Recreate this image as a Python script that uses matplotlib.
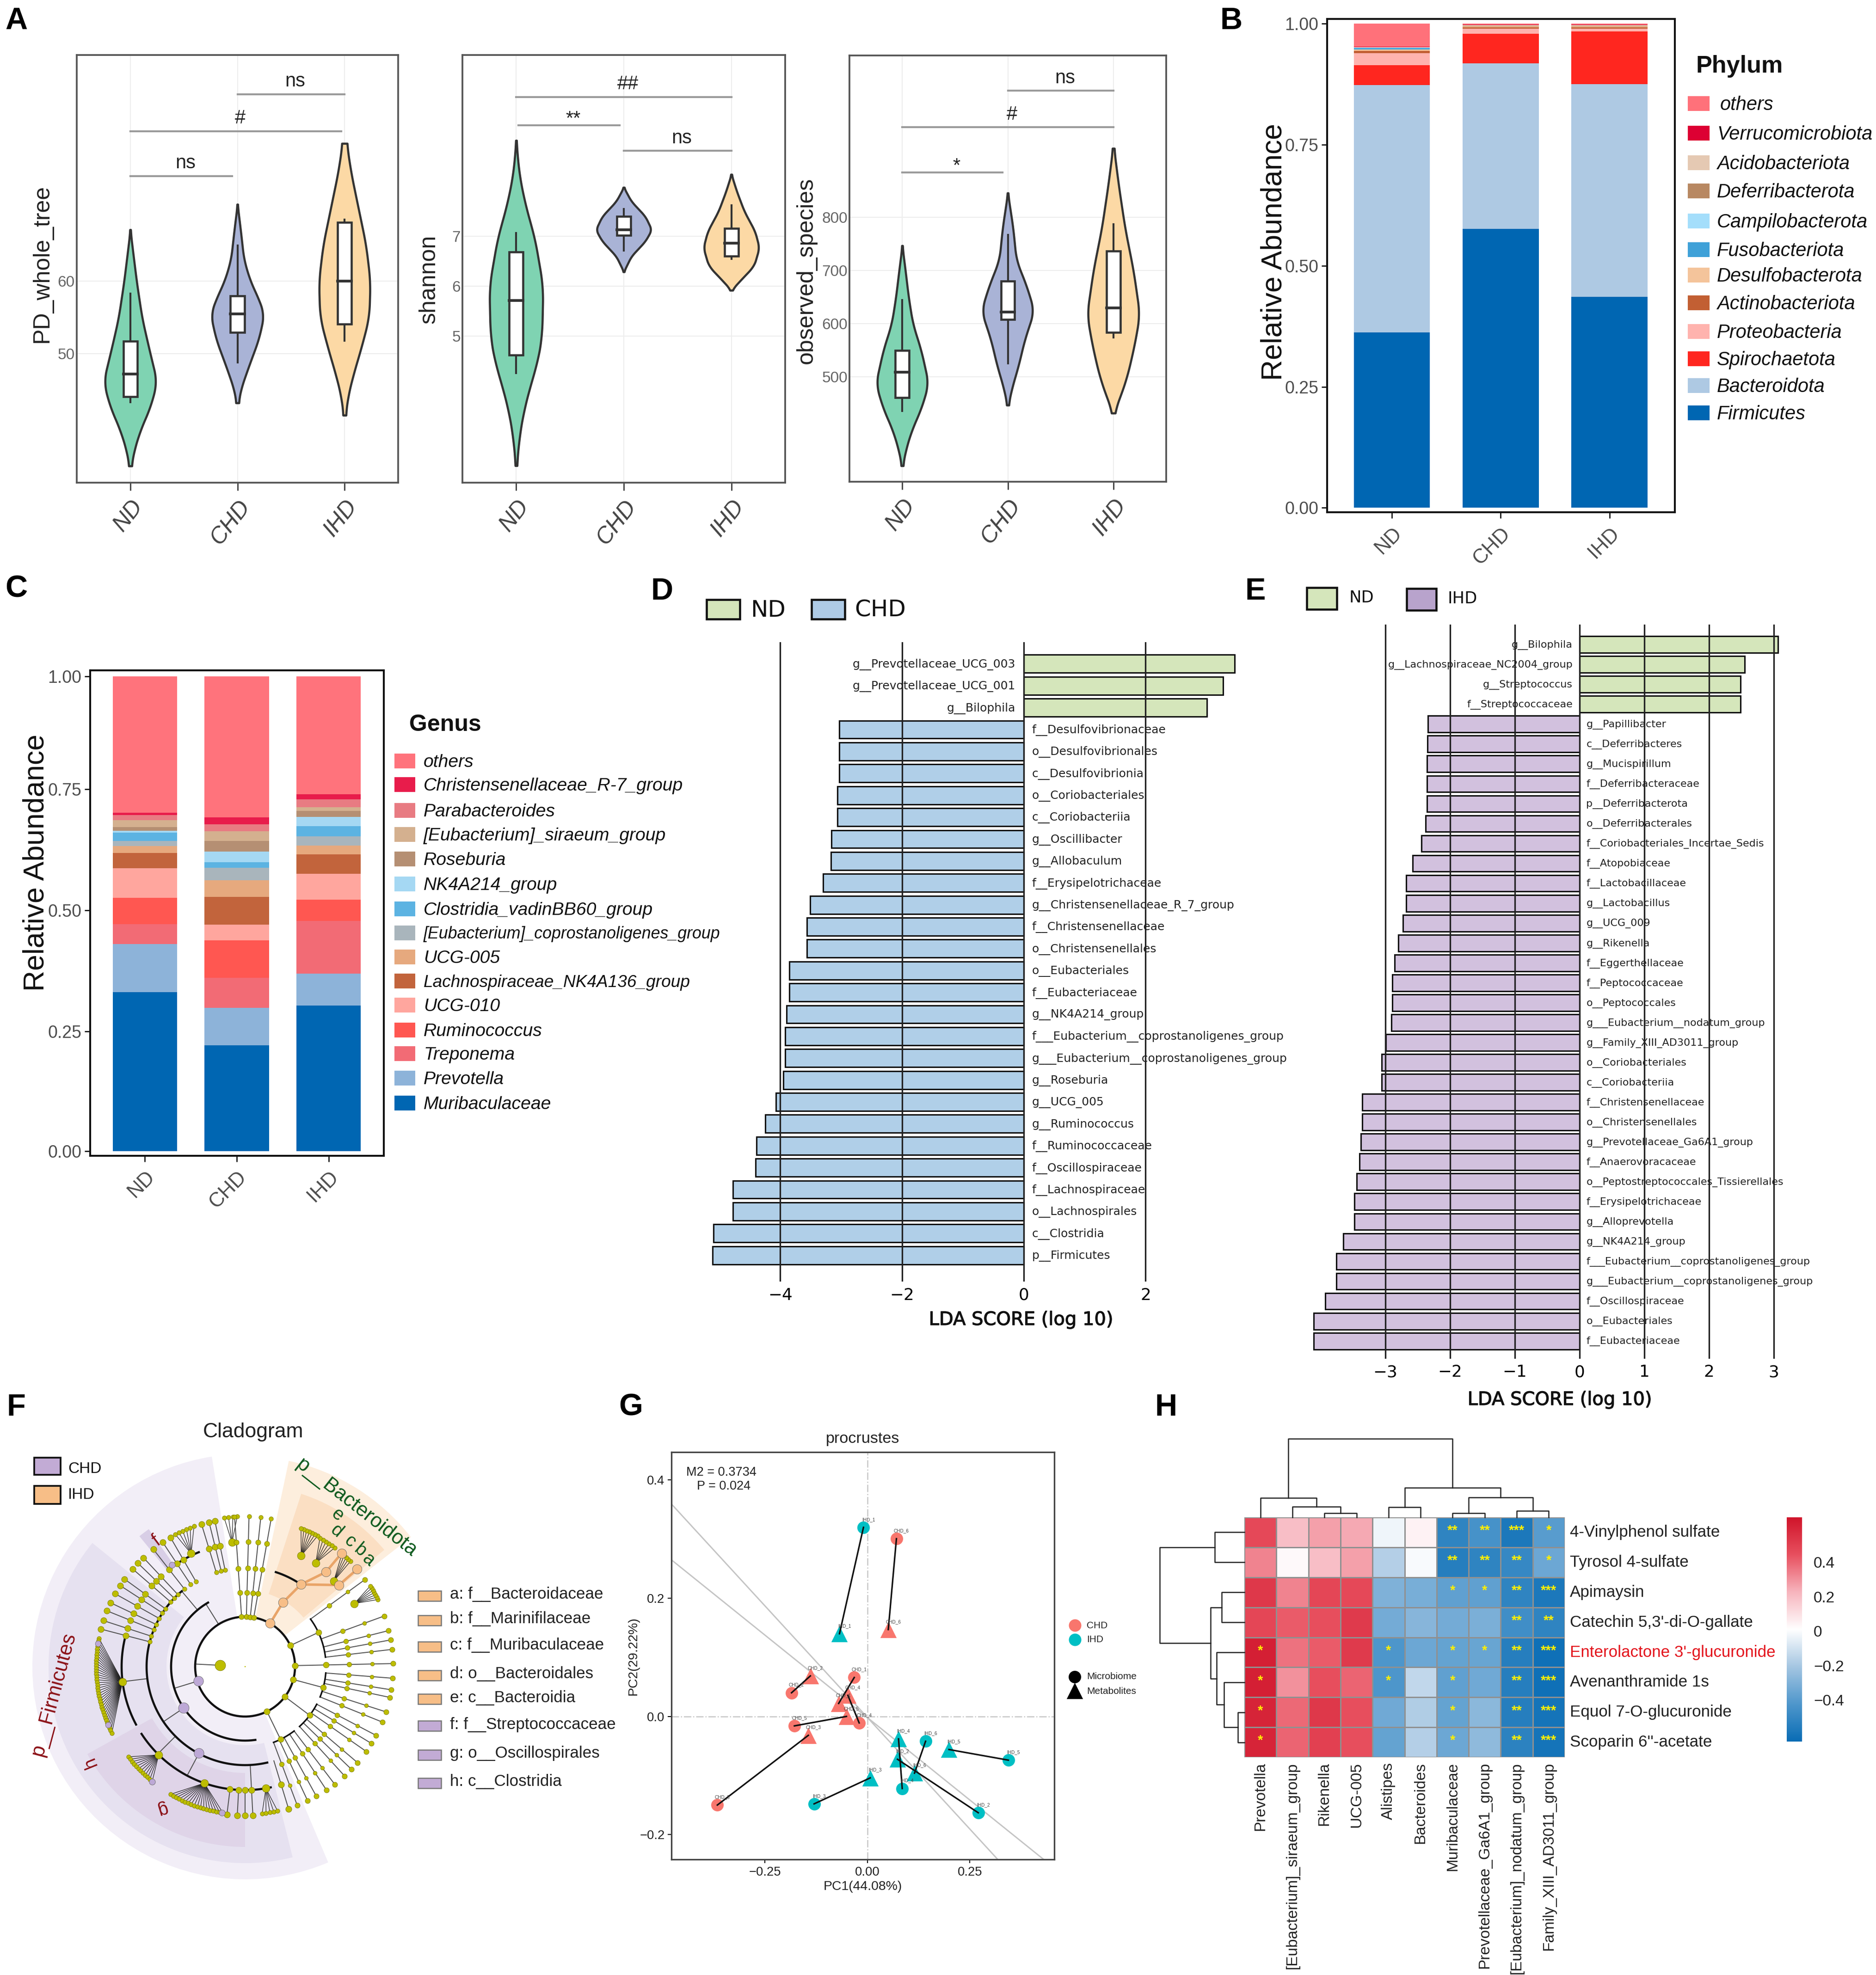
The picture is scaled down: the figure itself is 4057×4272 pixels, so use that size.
import numpy as np
import matplotlib
matplotlib.use("Agg")
import matplotlib.pyplot as plt
import matplotlib.patheffects as pe
from matplotlib.patches import Wedge, Rectangle
from matplotlib.colors import LinearSegmentedColormap

plt.rcParams['font.family'] = ['Liberation Sans', 'DejaVu Sans']
W, H = 4057, 4272
fig = plt.figure(figsize=(W/300, H/300), dpi=300, facecolor='white')

def axpx(x0, y0, x1, y1, **k):
    return fig.add_axes([x0/W, 1-y1/H, (x1-x0)/W, (y1-y0)/H], **k)

ov = axpx(0, 0, W, H, zorder=20)
ov.set_xlim(0, W); ov.set_ylim(H, 0); ov.axis('off'); ov.patch.set_alpha(0)

groups = ['ND', 'CHD', 'IHD']
vcolors = ['#7FD3B2', '#A9B3D6', '#FCD9A5']

# ---------- A : violin outlines (value, half width) and box stats
pd_prof = [
    ([67.1,64.6,59.8,54.9,51,46.1,42.7,39.3,36.3,34.5],[0,.02,.06,.11,.17,.25,.19,.09,.03,.01]),
    ([70.6,67,63,60,57.5,55.4,52,48,45,43.2],[0,.03,.06,.12,.2,.25,.2,.1,.03,.01]),
    ([79,75,70,65,60,55,51,47,44,41.5],[.02,.06,.13,.2,.24,.23,.16,.08,.03,.01])]
pd_box = [(43.3,44.05,47.2,51.7,58.3),(48.8,52.9,55.5,58,64.9),(51.8,54.1,60,68.1,68.5)]
sh_prof = [
    ([8.92,8.2,7.5,7,6,5,4.5,4,3.5,3,2.41],[0,.03,.1,.17,.25,.24,.2,.13,.07,.03,.005]),
    ([7.98,7.7,7.4,7.13,6.9,6.6,6.29],[0,.07,.2,.26,.2,.07,0]),
    ([8.24,7.9,7.5,7.1,6.77,6.4,6.2,5.92],[0,.05,.12,.22,.26,.21,.12,0])]
sh_box = [(4.26,4.62,5.72,6.69,7.07),(6.72,7.02,7.13,7.4,7.55),(6.55,6.6,6.86,7.16,7.62)]
ob_prof = [
    ([747,700,650,600,550,487,440,400,360,333],[0,.03,.06,.1,.18,.25,.18,.09,.03,.005]),
    ([846,780,720,670,624,570,520,480,447],[0,.05,.08,.18,.25,.16,.1,.04,.005]),
    ([930,860,780,700,617,560,500,460,432],[.005,.05,.11,.19,.25,.2,.13,.06,.005])]
ob_box = [(436,461,509,550,645),(526,608,622,680,767),(574,584,630,737,787)]
pd_brk = [(1,1.95,74.5,'ns'),(1,2.97,80.7,'#'),(2,3,85.8,'ns')]
sh_brk = [(1,3,9.79,'##'),(1.02,1.96,9.22,'**'),(2,3,8.71,'ns')]
ob_brk = [(2,3,1038.7,'ns'),(1,3,970,'#'),(1,1.95,885,'*')]

def smooth(y, w):
    y = np.asarray(y, float); w = np.asarray(w, float)
    o = np.argsort(y); y, w = y[o], w[o]
    yy = np.linspace(y[0], y[-1], 200)
    ww = np.interp(yy, y, w)
    k = 21
    pad = np.r_[np.full(k, ww[0]), ww, np.full(k, ww[-1])]
    ww = np.convolve(pad, np.ones(k)/k, mode='same')[k:-k]
    return yy, ww

def violin(box, ylim, yticks, prof, stats, brk, lab, labx, laby):
    ax = axpx(*box)
    ax.set_xlim(.5, 3.5); ax.set_ylim(*ylim)
    ax.grid(True, color='#EDEDED', lw=.5); ax.set_axisbelow(True)
    for i, ((y, w), st, c) in enumerate(zip(prof, stats, vcolors)):
        yy, ww = smooth(y, w)
        ax.fill_betweenx(yy, i+1-ww, i+1+ww, facecolor=c, edgecolor='#333333', lw=1.1, zorder=2)
        ax.plot([i+1, i+1], [st[0], st[4]], color='#333333', lw=1, zorder=3)
        ax.add_patch(Rectangle((i+1-.065, st[1]), .13, st[3]-st[1], fc='white', ec='#333333', lw=1.1, zorder=4))
        ax.plot([i+1-.065, i+1+.065], [st[2], st[2]], color='#333333', lw=1.4, zorder=5)
    dy = (ylim[1]-ylim[0])
    for a, b, y, t in brk:
        ax.plot([a, b], [y, y], color='#9A9A9A', lw=1)
        stars = t in ('*', '**')
        ax.text((a+b)/2+.04, y+(.014 if stars else .008)*dy, t, ha='center', va='center' if stars else 'bottom',
                fontsize=10, color='#222222')
    ax.set_xticks([1, 2, 3])
    ax.set_xticklabels(groups, rotation=52, ha='right', rotation_mode='anchor', style='italic',
                       fontsize=12, color='#444444')
    ax.set_yticks(yticks)
    ax.tick_params(axis='y', length=0, pad=1, labelsize=8, labelcolor='#666666')
    ax.tick_params(axis='x', length=4, width=.7, color='#444444', pad=3)
    for s in ax.spines.values():
        s.set_color('#555555'); s.set_linewidth(.9)
    ov.text(labx, laby, lab, rotation=90, ha='center', va='center', fontsize=12, color='#222222')
    return ax

violin((166,119,861,1044),(32.2,91.2),[50,60],pd_prof,pd_box,pd_brk,'PD_whole_tree',91,570)
violin((1000,119,1698,1044),(2.07,10.63),[5,6,7],sh_prof,sh_box,sh_brk,'shannon',928,604)
violin((1837,120,2522,1042),(303,1104.7),[500,600,700,800],ob_prof,ob_box,ob_brk,'observed_species',1744,585)

# ---------- B : phylum stack
phyla = ['Firmicutes','Bacteroidota','Spirochaetota','Proteobacteria','Actinobacteriota','Desulfobacterota',
         'Fusobacteriota','Campilobacterota','Deferribacterota','Acidobacteriota','Verrucomicrobiota','others']
phy_col = ['#0066B2','#AEC9E3','#FF261F','#FFB3AE','#C25F33','#F4C49B','#3FA1D8','#A4DEFB','#B88862','#E5C9B3','#DD0033','#FF717A']
phy_nd  = [.3625,.5105,.041,.025,.005,.003,.003,.0005,.0005,.001,.0005,.0475]
phy_chd = [.5765,.3415,.061,.011,.0025,.002,.0003,.0002,.001,.0015,.0005,.002]
phy_ihd = [.436,.439,.109,.006,.0025,.002,.0003,.0002,.001,.0015,.0005,.002]

def stack(ax, vals, cols, width=.7):
    bot = np.zeros(3)
    for v, c in zip(vals, cols):
        ax.bar([1,2,3], v, bottom=bot, width=width, color=c, lw=0)
        bot += np.array(v)

def stackax(box, ylim, ticks):
    ax = axpx(*box)
    ax.set_xlim(.405, 3.6); ax.set_ylim(*ylim)
    ax.set_xticks([1,2,3])
    ax.set_xticklabels(groups, rotation=45, ha='right', rotation_mode='anchor', fontsize=10.5, color='#4D4D4D')
    ax.set_yticks(ticks); ax.set_yticklabels(['0.00','0.25','0.50','0.75','1.00'])
    ax.tick_params(axis='y', length=3, width=.6, pad=1.5, labelsize=9, labelcolor='#4D4D4D')
    ax.tick_params(axis='x', length=3, width=.6, pad=3)
    for s in ax.spines.values():
        s.set_linewidth(1); s.set_color('#111111')
    return ax

axB = stackax((2870,41,3622,1108),(-.0091,1.0099),[0,.25,.5,.75,1])
stack(axB, list(zip(phy_nd, phy_chd, phy_ihd)), phy_col)
ov.text(2755, 545, 'Relative Abundance', rotation=90, ha='center', va='center', fontsize=15, color='#111111')
ov.text(3668, 143, 'Phylum', fontsize=12.5, ha='left', va='center', fontweight='bold', color='#111111')
leg_y = [281,361,442,518,600,677,746,822,899,974,1047,1121]
for n, c, y in zip(phyla[::-1], phy_col[::-1], leg_y):
    yy = y*.797
    ov.add_patch(Rectangle((3650, yy-16), 47, 32, fc=c, lw=0))
    ov.text(3713 if n != 'others' else 3720, yy+3, n, style='italic', fontsize=10, va='center', color='#111111')

# ---------- C : genus stack
genera = ['Muribaculaceae','Prevotella','Treponema','Ruminococcus','UCG-010','Lachnospiraceae_NK4A136_group','UCG-005',
          '[Eubacterium]_coprostanoligenes_group','Clostridia_vadinBB60_group','NK4A214_group','Roseburia',
          '[Eubacterium]_siraeum_group','Parabacteroides','Christensenellaceae_R-7_group','others']
gen_col = ['#0066B2','#8DB3D9','#F26B75','#FF5751','#FFA69E','#C2643C','#E6A97E','#A9B5BC','#5CB3E2','#A5D8F3','#B58F73','#D4B08F','#E87B82','#E81C4B','#FF737C']
gen_nd  = [.335,.1015,.0415,.056,.0625,.0315,.0145,.0115,.017,.004,.008,.014,.011,.005,.287]
gen_chd = [.2235,.0785,.063,.079,.033,.059,.035,.026,.012,.022,.023,.02,.015,.0145,.2965]
gen_ihd = [.307,.067,.111,.045,.054,.041,.019,.019,.022,.019,.0125,.0085,.016,.011,.248]

axC = stackax((195,1450,830,2500),(-.0096,1.013),[0,.2527,.508,.763,1])
stack(axC, list(zip(gen_nd, gen_chd, gen_ihd)), gen_col)
ov.text(78, 1866, 'Relative Abundance', rotation=90, ha='center', va='center', fontsize=15, color='#111111')
ov.text(885, 1568, 'Genus', fontsize=12, ha='left', va='center', fontweight='bold', color='#111111')
leg_y2 = [455,512,574,633,692,752,813,871,929,988,1046,1106,1163,1223,1283]
for n, c, y in zip(genera[::-1], gen_col[::-1], leg_y2):
    yy = 1240+y*.893
    ov.add_patch(Rectangle((853, yy-16), 45, 32, fc=c, lw=0))
    ov.text(916, yy+3, n, style='italic', va='center', color='#111111',
            fontsize=8.6 if 'copro' in n else (8.9 if 'NK4A136' in n else 9.4))

# ---------- D / E : LDA
lda_d_names = ['g__Prevotellaceae_UCG_003','g__Prevotellaceae_UCG_001','g__Bilophila','f__Desulfovibrionaceae','o__Desulfovibrionales',
 'c__Desulfovibrionia','o__Coriobacteriales','c__Coriobacteriia','g__Oscillibacter','g__Allobaculum','f__Erysipelotrichaceae',
 'g__Christensenellaceae_R_7_group','f__Christensenellaceae','o__Christensenellales','o__Eubacteriales','f__Eubacteriaceae',
 'g__NK4A214_group','f___Eubacterium__coprostanoligenes_group','g___Eubacterium__coprostanoligenes_group','g__Roseburia',
 'g__UCG_005','g__Ruminococcus','f__Ruminococcaceae','f__Oscillospiraceae','f__Lachnospiraceae','o__Lachnospirales','c__Clostridia','p__Firmicutes']
lda_d_vals = [3.46,3.27,3.01,-3.03,-3.03,-3.03,-3.06,-3.06,-3.16,-3.17,-3.30,-3.51,-3.56,-3.56,-3.85,-3.85,-3.90,-3.92,-3.92,-3.95,
              -4.07,-4.25,-4.39,-4.41,-4.78,-4.78,-5.10,-5.11]
lda_e_names = ['g__Bilophila','g__Lachnospiraceae_NC2004_group','g__Streptococcus','f__Streptococcaceae','g__Papillibacter','c__Deferribacteres',
 'g__Mucispirillum','f__Deferribacteraceae','p__Deferribacterota','o__Deferribacterales','f__Coriobacteriales_Incertae_Sedis','f__Atopobiaceae',
 'f__Lactobacillaceae','g__Lactobacillus','g__UCG_009','g__Rikenella','f__Eggerthellaceae','f__Peptococcaceae','o__Peptococcales',
 'g___Eubacterium__nodatum_group','g__Family_XIII_AD3011_group','o__Coriobacteriales','c__Coriobacteriia','f__Christensenellaceae',
 'o__Christensenellales','g__Prevotellaceae_Ga6A1_group','f__Anaerovoracaceae','o__Peptostreptococcales_Tissierellales','f__Erysipelotrichaceae',
 'g__Alloprevotella','g__NK4A214_group','f___Eubacterium__coprostanoligenes_group','g___Eubacterium__coprostanoligenes_group',
 'f__Oscillospiraceae','o__Eubacteriales','f__Eubacteriaceae']
lda_e_vals = [3.07,2.55,2.49,2.49,-2.34,-2.35,-2.36,-2.36,-2.36,-2.375,-2.44,-2.58,-2.68,-2.68,-2.73,-2.80,-2.86,-2.89,-2.89,-2.91,-2.99,
              -3.055,-3.055,-3.36,-3.36,-3.38,-3.40,-3.44,-3.48,-3.48,-3.65,-3.76,-3.76,-3.93,-4.11,-4.11]

def lda(box, xlim, ylim, names, vals, neg, ticks, fs, off, hgt):
    ax = axpx(*box, zorder=5)
    ax.set_xlim(*xlim); ax.set_ylim(*ylim)
    y = np.arange(len(vals)); v = np.array(vals)
    ax.barh(y, v, height=hgt, color=['#D5E6BB' if t > 0 else neg for t in v], edgecolor='#111111', lw=.75, zorder=2)
    for t in ticks:
        ax.axvline(t, color='#222222', lw=.8, zorder=3)
    for yi, n, t in zip(y, names, v):
        ax.text(-off if t > 0 else off, yi+.03, n, ha='right' if t > 0 else 'left', va='center',
                fontsize=fs, family='DejaVu Sans', color='#222222', zorder=4)
    ax.set_xticks(ticks)
    ax.set_yticks([])
    ax.tick_params(axis='x', length=0, labelsize=8.6, pad=3)
    for l in ax.get_xticklabels():
        l.set_fontfamily('DejaVu Sans')
    for s in ax.spines.values():
        s.set_visible(False)
    ax.patch.set_alpha(0)
    return ax

lda((1534,1389,2688,2772),(-5.166,3.6),(28.2,-.99),lda_d_names,lda_d_vals,'#B0CFE8',[-4,-2,0,2],6.0,.135,.82)
lda((2821,1351,3929,2939),(-4.25,3.667),(35.89,-1.0),lda_e_names,lda_e_vals,'#D2C1DE',[-3,-2,-1,0,1,2,3],5.35,.105,.83)

def swatch(x, y, w, h, c, lw=1.1):
    ov.add_patch(Rectangle((x, y), w, h, fc=c, ec='#111111', lw=lw))
bold = [pe.withStroke(linewidth=.3, foreground='#111111')]
swatch(1528,1297,72,42,'#D5E6BB'); swatch(1755,1297,72,42,'#AECBE6')
ov.text(1623,1320,'ND',fontsize=12,va='center',family='DejaVu Sans',color='#111111')
ov.text(1848,1320,'CHD',fontsize=12,va='center',family='DejaVu Sans',color='#111111')
ov.text(2208,2855,'LDA SCORE (log 10)',fontsize=9.6,ha='center',va='center',family='DejaVu Sans',color='#111111',path_effects=bold)
swatch(2826,1271,65,47,'#D5E6BB'); swatch(3042,1273,64,47,'#B8A3CC')
ov.text(2918,1293,'ND',fontsize=8.5,va='center',family='DejaVu Sans',color='#111111')
ov.text(3131,1295,'IHD',fontsize=8.5,va='center',family='DejaVu Sans',color='#111111')
ov.text(3373,3028,'LDA SCORE (log 10)',fontsize=9.6,ha='center',va='center',family='DejaVu Sans',color='#111111',path_effects=bold)

# ---------- F : cladogram (angle in degrees, radius)
sectors = [(105,460,99,293,'#F2EEF7'),(170,425,141,284,'#E6E1F0'),(230,390,209,270,'#DFD4E8'),(272,363,125,129,'#D8CEE6'),
           (110,455,38,78,'#FDEEDD'),(165,393,40,72,'#FBDFC3')]
rings = [(108,0,360),(160,120,278),(213,130,283),(267,165,208),(267,213,268),(267,112,128),(267,270,282)]
fans = [(187,267,169,206.5,36,322),(225.6,267,217.7,231,12,319),(250.7,267,239.7,261.4,18,320),(279.7,267,276.6,282.7,5,320),
        (115.5,271,110,117.8,6,323),(55.7,271,53,59.8,6,322),(63.2,269,61,68,7,323),(44,267,45,49.4,5,322),(30,273,26.8,32.8,7,322),(96,270,93,98,4,325)]
stalks_top = [94,88.5,84,80]
stalks_left = [165.4,162,158,154.6,150.7,147,144,139,136,133,128,123.5,120,107,104,101.7]
stalks_bottom = [-97,-93,-90,-87,-73]
right_groups = [(25,[36,20,14.1,10.4,6.7]),(1.2,[1.2]),(-15,[-4.5,-9,-12,-17.8,-22]),(-37,[-27.7,-31.3,-35,-40.5,-44,-47.7]),(-64,[-52.7,-56.6,-61.2,-65,-69.4])]
links = [(197,108,197,160),(214,160,214,213),(122,108,122,160),(242,213,242,267),(130,160,130,213),(177,108,177,54),(187,213,187,267),(225,213,225,267)]
or_links = [(60,108,59.5,161),(59.5,161,55.8,215),(55.8,215,49.5,269),(55.8,215,41,269),(49.5,269,49.6,322),(41,269,41,321)]
pu_nodes = [(197,106,26),(214,160,30),(242,212,26),(125.7,271,10),(231,320,10),(261,320,10),(171,322,9),(203,322,9)]
arcs_or = [(215,55,72)]

axF = axpx(30,3125,1030,4085, zorder=1)
axF.set_xlim(-500,500); axF.set_ylim(-480,480); axF.axis('off')
def P(a, r):
    a = np.deg2rad(a)
    return r*np.cos(a), r*np.sin(a)
LC = '#555555'; DOT = '#BDBD00'; DE = '#777700'
for r0, r1, a0, a1, c in sectors:
    axF.add_patch(Wedge((0,0), r1, a0, a1, width=r1-r0, fc=c, lw=0, zorder=1))
def arc(r, a0, a1, lw=1.1, c='#111111'):
    t = np.linspace(a0, a1, 200)
    x, y = P(t, r)
    axF.plot(x, y, color=c, lw=lw, zorder=4)
def seg(a0, r0, a1, r1, c=LC, lw=.5, z=3):
    x0, y0 = P(a0, r0); x1, y1 = P(a1, r1)
    axF.plot([x0,x1],[y0,y1],color=c,lw=lw,zorder=z)
def dot(a, r, s=6, c=DOT):
    x, y = P(a, r)
    axF.scatter([x],[y],s=s,c=c,edgecolors=DE if c == DOT else '#666666',linewidths=.2,zorder=6)
for r, a0, a1 in rings:
    arc(r, a0, a1)
for an, rn, a0, a1, n, rl in fans:
    for a in np.linspace(a0, a1, n):
        seg(an, rn, a, rl, c='#222222', lw=.3)
        dot(a, rl, 5)
    dot(an, rn, 16)
for a in stalks_top:
    seg(a, 108, a, 325)
    for r in (108, 160, 213, 270):
        dot(a, r, 7)
    dot(a, 325, 5)
for a in stalks_left:
    seg(a, 213, a, 322)
    dot(a, 213, 5); dot(a, 267, 10); dot(a, 322, 10)
for a in stalks_bottom:
    seg(a, 267 if a < -88 else 213, a, 322)
    dot(a, 267, 10); dot(a, 322, 10)
for ar, ls in right_groups:
    seg(ar, 108, ar, 175); dot(ar, 108, 10); dot(ar, 175, 9)
    arc(175, min(ls+[ar]), max(ls+[ar]), lw=.8)
    for a in ls:
        seg(a, 175, a, 320)
        dot(a, 225, 6); dot(a, 275, 4); dot(a, 320, 7)
for a0, r0, a1, r1 in links:
    seg(a0, r0, a1, r1)
for a0, r0, a1, r1 in or_links:
    seg(a0, r0, a1, r1, c='#E9A468', lw=1.3, z=5)
    dot(a1, r1, 24, '#F7BE87')
dot(60, 108, 24, '#F7BE87')
for r, a0, a1 in arcs_or:
    arc(r, a0, a1)
for a, r, s in pu_nodes:
    dot(a, r, s, '#BDA8D6')
dot(177, 54, 30)
arc(0.5, 0, 360, lw=.4, c=DOT)
# F texts
ov.text(548,3097,'Cladogram',ha='center',va='center',fontsize=10.7,color='#222222')
swatch(74,3153,57,37,'#C2ABD5',.9); swatch(74,3214,57,39,'#F7BE87',.9)
ov.text(147,3177,'CHD',va='center',fontsize=8,color='#111111'); ov.text(147,3233,'IHD',va='center',fontsize=8,color='#111111')
f_leg = ['a: f__Bacteroidaceae','b: f__Marinifilaceae','c: f__Muribaculaceae','d: o__Bacteroidales','e: c__Bacteroidia',
         'f: f__Streptococcaceae','g: o__Oscillospirales','h: c__Clostridia']
f_leg_y = [605,669,738,813,875,945,1020,1094]
for i,(t,y) in enumerate(zip(f_leg,f_leg_y)):
    yy = 2950+y*.829
    ov.add_patch(Rectangle((904,yy-11),50,22,fc='#F7BE87' if i<5 else '#C2ABD5',ec='#777777',lw=.6))
    ov.text(973,yy-3,t,va='center',fontsize=8.4,color='#222222')
RED='#8B1016'; GRN='#0F5A1E'
ov.text(116,3665,'p__Firmicutes',rotation=75,ha='center',va='center',fontsize=10.5,color=RED)
ov.text(195,3812,'h',rotation=112,ha='center',va='center',fontsize=9.5,color=RED)
ov.text(350,3913,'g',rotation=197,ha='center',va='center',fontsize=9.5,color=RED)
ov.text(338,3333,'f',rotation=37,ha='center',va='center',fontsize=9.5,color=RED)
ov.text(770,3261,'p__Bacteroidota',rotation=-38,ha='center',va='center',fontsize=10.5,color=GRN)
for t,x,y in zip('edcba',[730,728,757,779,797],[3277,3312,3334,3354,3374]):
    ov.text(x,y,t,rotation=-40,ha='center',va='center',fontsize=9.5,color=GRN)

# ---------- G : procrustes
g_chd_names = ['CHD_6','CHD_2','CHD_1','CHD_4','CHD_5','CHD_3']
g_chd_cx = [.0709,-.185,-.032,-.02,-.178,-.366]
g_chd_cy = [.3008,.040,.0659,-.011,-.016,-.15]
g_chd_tx = [.051,-.139,-.07,-.0475,-.051,-.144]
g_chd_ty = [.147,.0686,.022,.0357,0,-.032]
g_ihd_names = ['IHD_1','IHD_6','IHD_5','IHD_2','IHD_4','IHD_3']
g_ihd_cx = [-.0095,.142,.344,.2705,.085,-.13]
g_ihd_cy = [.32,-.042,-.074,-.163,-.122,-.148]
g_ihd_tx = [-.068,.115,.199,.0735,.076,.007]
g_ihd_ty = [.14,-.096,-.056,-.0725,-.038,-.104]
rot_lines = [((-.478,.3595),(.318,-.242)),((-.478,.265),(.43,-.242))]

axG = axpx(1452,3141,2280,4022)
axG.set_xlim(-.478,.456); axG.set_ylim(-.242,.4473)
for a,b in rot_lines:
    axG.plot(*zip(a,b),color='#C4C4C4',lw=.7,zorder=1)
axG.axhline(0,color='#C8C8C8',lw=.6,ls='-.',zorder=1); axG.axvline(0,color='#C8C8C8',lw=.6,ls='-.',zorder=1)
for names,cx,cy,tx,ty,col in [(g_chd_names,g_chd_cx,g_chd_cy,g_chd_tx,g_chd_ty,'#F8766D'),
                              (g_ihd_names,g_ihd_cx,g_ihd_cy,g_ihd_tx,g_ihd_ty,'#00BFC4')]:
    axG.scatter(cx,cy,s=42,c=col,marker='o',lw=0,zorder=2)
    axG.scatter(tx,ty,s=72,c=col,marker='^',lw=0,zorder=2)
    for n,a,b,c,d in zip(names,cx,cy,tx,ty):
        axG.plot([a,c],[b,d],color='#111111',lw=.8,zorder=3)
        axG.text(a+.012,b+.011,n,fontsize=2.4,color='#444444',ha='center',zorder=4)
        axG.text(c+.012,d+.011,n,fontsize=2.4,color='#444444',ha='center',zorder=4)
axG.set_xticks([-.25,0,.25]); axG.set_xticklabels(['\u22120.25','0.00','0.25'])
axG.set_yticks([-.2,0,.2,.4]); axG.set_yticklabels(['\u22120.2','0.0','0.2','0.4'])
axG.tick_params(labelsize=6.6,length=2,width=.5,labelcolor='#222222',pad=1.5)
for s in axG.spines.values():
    s.set_linewidth(.8); s.set_color('#444444')
ov.text(1866,3112,'procrustes',ha='center',va='center',fontsize=8.2,color='#222222')
ov.text(1866,4081,'PC1(44.08%)',ha='center',va='center',fontsize=6.8,color='#222222')
ov.text(1370,3582,'PC2(29.22%)',rotation=90,ha='center',va='center',fontsize=6.8,color='#222222')
ov.text(1560,3185,'M2 = 0.3734',ha='center',va='center',fontsize=6.5,color='#222222')
ov.text(1565,3215,'P = 0.024',ha='center',va='center',fontsize=6.5,color='#222222')
ov.scatter([2325,2325],[3516,3547],s=42,c=['#F8766D','#00BFC4'],lw=0)
ov.scatter([2324],[3627],s=42,c='k',lw=0); ov.scatter([2324],[3657],s=72,c='k',marker='^',lw=0)
for t,y in zip(['CHD','IHD','Microbiome','Metabolites'],[3516,3547,3627,3658]):
    ov.text(2350,y,t,va='center',fontsize=5,color='#222222')

# ---------- H : correlation heatmap
h_rows = ['4-Vinylphenol sulfate','Tyrosol 4-sulfate','Apimaysin',"Catechin 5,3'-di-O-gallate","Enterolactone 3'-glucuronide",
          'Avenanthramide 1s','Equol 7-O-glucuronide',"Scoparin 6''-acetate"]
h_cols = ['Prevotella','[Eubacterium]_siraeum_group','Rikenella','UCG-005','Alistipes','Bacteroides','Muribaculaceae',
          'Prevotellaceae_Ga6A1_group','[Eubacterium]_nodatum_group','Family_XIII_AD3011_group']
h_vals = [[.47,.2,.27,.25,-.03,.05,-.52,-.45,-.58,-.4],
          [.33,.03,.2,.27,-.17,-.01,-.55,-.52,-.5,-.35],
          [.53,.33,.48,.47,-.3,-.32,-.38,-.38,-.52,-.58],
          [.48,.42,.45,.52,-.33,-.28,-.33,-.31,-.47,-.52],
          [.62,.37,.42,.52,-.43,-.35,-.37,-.36,-.55,-.62],
          [.62,.3,.45,.4,-.43,-.14,-.38,-.34,-.55,-.62],
          [.6,.39,.53,.45,-.34,-.18,-.37,-.27,-.55,-.6],
          [.6,.4,.5,.45,-.37,-.17,-.35,-.26,-.53,-.6]]
h_stars = [['','','','','','','**','**','***','*'],
           ['','','','','','','**','**','**','*'],
           ['','','','','','','*','*','**','***'],
           ['','','','','','','','','**','**'],
           ['*','','','','*','','*','*','**','***'],
           ['*','','','','*','','*','','**','***'],
           ['*','','','','','','*','','**','***'],
           ['*','','','','','','*','','**','***']]
cm = LinearSegmentedColormap.from_list('h',['#0A6DB5','#4F97CC','#A5C6E2','#FFFFFF','#F7B5BE','#E8505F','#D0152B'])
axH = axpx(2691,3282,3384,3801)
axH.pcolormesh(np.arange(11),np.arange(9),np.array(h_vals),cmap=cm,vmin=-.64,vmax=.66,edgecolors='#909090',lw=.6)
axH.set_xlim(0,10); axH.set_ylim(8,0)
axH.set_xticks([]); axH.set_yticks([])
for s in axH.spines.values():
    s.set_visible(False)
for i,row in enumerate(h_stars):
    for j,t in enumerate(row):
        if t:
            axH.text(j+.5,i+.45,t,ha='center',va='center',color='#FFEE00',fontsize=7,fontweight='bold')
    ov.text(3395,3282+(i+.5)*64.9,h_rows[i],va='center',fontsize=8.4,color='#E3141C' if 'Entero' in h_rows[i] else '#222222')
for j,t in enumerate(h_cols):
    ov.text(2691+(j+.5)*69.3,3812,t,rotation=90,ha='center',va='top',fontsize=8,color='#222222')

# dendrograms: (a position, a height, b position, b height, merge height)
top_tree = [(2.5,0,3.5,0,11),(1.5,0,3,11,30),(.5,0,2.25,30,54),(4.5,0,5.5,0,28),(6.5,0,7.5,0,12),(8.5,0,9.5,0,18),
            (7,12,9,18,55),(5,28,8,55,82),(1.375,54,6.5,82,218)]
left_tree = [(0,0,1,0,63),(2,0,3,0,48),(6,0,7,0,14),(5,0,6.5,14,43),(4,0,5.75,43,59),(2.5,48,4.875,59,71),(.5,63,3.69,71,179)]
axT = axpx(2691,3112,3384,3282); axT.set_xlim(0,10); axT.set_ylim(0,218); axT.axis('off')
for a,ha_,b,hb,m in top_tree:
    axT.plot([a,a,b,b],[ha_,m,m,hb],color='#222222',lw=.6,clip_on=False)
axL = axpx(2508,3282,2691,3801); axL.set_xlim(179,0); axL.set_ylim(7.5,-.5); axL.axis('off')
for a,ha_,b,hb,m in left_tree:
    axL.plot([ha_,m,m,hb],[a,a,b,b],color='#222222',lw=.6,clip_on=False)
axCB = axpx(3864,3282,3897,3767)
axCB.imshow(np.linspace(.66,-.64,256)[:,None],cmap=cm,vmin=-.64,vmax=.66,aspect='auto',extent=(0,1,-.64,.66))
axCB.set_xticks([]); axCB.yaxis.tick_right()
axCB.set_yticks([-.4,-.2,0,.2,.4]); axCB.set_yticklabels(['\u22120.4','\u22120.2','0','0.2','0.4'])
axCB.tick_params(axis='y',length=0,labelsize=8,pad=6,labelcolor='#222222')
for s in axCB.spines.values():
    s.set_visible(False)

# panel letters
for t,x,y in [('A',35,46),('B',2663,46),('C',35,1275),('D',1432,1280),('E',2715,1280),('F',35,3045),('G',1364,3045),('H',2522,3045)]:
    ov.text(x,y,t,fontsize=16,fontweight='bold',ha='center',va='center',color='#000000')

fig.savefig('out.png',dpi=300,facecolor='white')
